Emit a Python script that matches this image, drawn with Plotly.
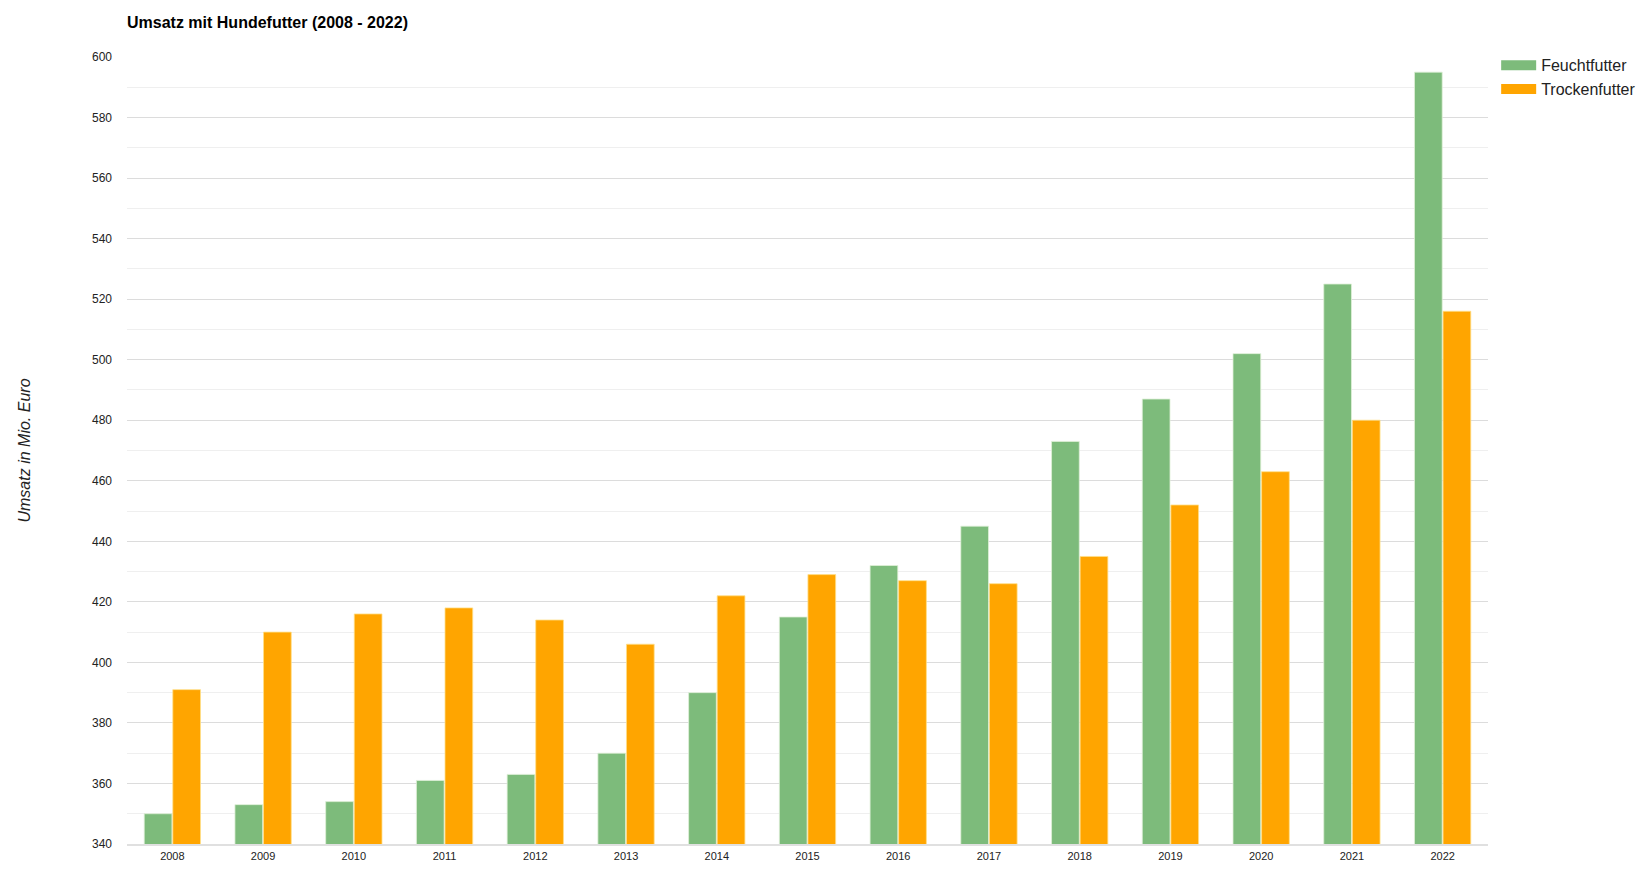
import plotly.graph_objects as go

years = [str(y) for y in range(2008, 2023)]
feuchtfutter = [350, 353, 354, 361, 363, 370, 390, 415, 432, 445, 473, 487, 502, 525, 595]
trockenfutter = [391, 410, 416, 418, 414, 406, 422, 429, 427, 426, 435, 452, 463, 480, 516]
y_ticks = [340, 360, 380, 400, 420, 440, 460, 480, 500, 520, 540, 560, 580, 600]

GREEN = "#7dbb7b"
ORANGE = "#ffa500"
FONT = "Liberation Sans, Arial, sans-serif"
TICKFONT = "Liberation Sans Narrow, Arial Narrow, Liberation Sans, Arial, sans-serif"

W, H = 1650, 878
L, R, T, B = 119, 170, 49, 42

fig = go.Figure()
fig.add_trace(go.Bar(name="Feuchtfutter", x=years, y=feuchtfutter, showlegend=False,
                     marker=dict(color=GREEN, line=dict(color="#dff0d8", width=0.8))))
fig.add_trace(go.Bar(name="Trockenfutter", x=years, y=trockenfutter, showlegend=False,
                     marker=dict(color=ORANGE, line=dict(color="#ffe08a", width=0.8))))
# legend swatches (wide rectangles like the original)
fig.add_trace(go.Scatter(name="Feuchtfutter", x=[None], y=[None], mode="lines",
                         line=dict(color=GREEN, width=16)))
fig.add_trace(go.Scatter(name="Trockenfutter", x=[None], y=[None], mode="lines",
                         line=dict(color=ORANGE, width=16)))

fig.update_layout(
    width=W, height=H,
    margin=dict(l=L, r=R, t=T, b=B),
    paper_bgcolor="white", plot_bgcolor="white",
    barmode="group", bargap=0.37, bargroupgap=0.03,
    title=dict(text="<b>Umsatz mit Hundefutter (2008 - 2022)</b>",
               x=119 / W, xanchor="left", y=1 - 14 / H, yanchor="middle",
               font=dict(family=FONT, size=16, color="#000")),
    legend=dict(x=1.006, xanchor="left", y=1.011, yanchor="top",
                font=dict(family=FONT, size=16, color="#222"),
                itemwidth=35, tracegroupgap=6, bgcolor="rgba(0,0,0,0)"),
    font=dict(family=FONT, color="#222"),
)

fig.update_yaxes(
    range=[340, 600], tickvals=y_ticks, automargin=False,
    tickfont=dict(family=TICKFONT, size=12, color="#222"),
    showgrid=True, gridcolor="#dcdcdc", gridwidth=1,
    minor=dict(dtick=10, showgrid=True, gridcolor="#efefef", gridwidth=1, tick0=340),
    zeroline=False, showline=False, ticks="", ticklabelstandoff=14,
    title=dict(text="<i>Umsatz in Mio. Euro</i>", standoff=57,
               font=dict(family=FONT, size=16, color="#222")),
)
fig.update_xaxes(
    automargin=False,
    tickfont=dict(family=TICKFONT, size=11, color="#222"),
    showline=True, linecolor="#e0e0e0", linewidth=1.5,
    ticks="", showgrid=False, ticklabelstandoff=1,
)

fig.write_html("out.html")
